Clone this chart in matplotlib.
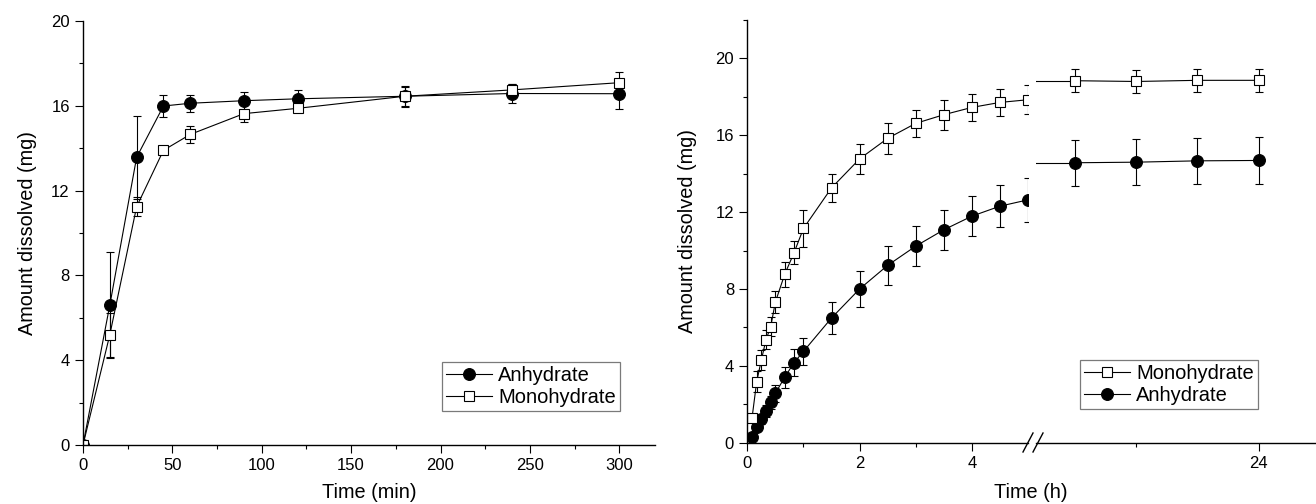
import matplotlib
matplotlib.use('Agg')
from matplotlib import pyplot as plt
from matplotlib.ticker import MultipleLocator, FixedLocator
from matplotlib.lines import Line2D

plt.rcParams['font.family'] = ['Liberation Sans', 'DejaVu Sans']

# left panel: time in minutes
t_min = [0, 15, 30, 45, 60, 90, 120, 180, 240, 300]
anh_min = [0, 6.6, 13.57, 15.99, 16.12, 16.24, 16.33, 16.45, 16.58, 16.57]
anh_min_err = [0, 2.5, 1.95, 0.5, 0.4, 0.42, 0.4, 0.45, 0.45, 0.7]
mono_min = [0, 5.2, 11.24, 13.9, 14.65, 15.63, 15.88, 16.45, 16.75, 17.09]
mono_min_err = [0, 1.05, 0.45, 0.12, 0.42, 0.4, 0.15, 0.5, 0.3, 0.5]

# right panel: time in hours, first 5 h
t_h = [0.083, 0.167, 0.25, 0.333, 0.417, 0.5, 0.667, 0.833, 1.0,
       1.5, 2.0, 2.5, 3.0, 3.5, 4.0, 4.5, 5.0]
mono_h = [1.26, 3.17, 4.3, 5.36, 6.04, 7.32, 8.77, 9.89, 11.15,
          13.26, 14.77, 15.84, 16.62, 17.07, 17.45, 17.71, 17.85]
mono_h_err = [0.15, 0.55, 0.5, 0.5, 0.5, 0.55, 0.65, 0.6, 0.95,
              0.72, 0.78, 0.8, 0.7, 0.78, 0.72, 0.7, 0.75]
anh_h = [0.3, 0.8, 1.24, 1.66, 2.1, 2.57, 3.41, 4.17, 4.75,
         6.49, 8.0, 9.23, 10.23, 11.08, 11.79, 12.31, 12.64]
anh_h_err = [0.1, 0.2, 0.25, 0.3, 0.35, 0.45, 0.55, 0.7, 0.7,
             0.85, 0.96, 1.0, 1.03, 1.03, 1.04, 1.1, 1.15]

# right panel after the axis break
t_long = [6, 12, 18, 24]
mono_long = [18.84, 18.8, 18.86, 18.86]
mono_long_err = [0.6, 0.6, 0.6, 0.6]
anh_long = [14.57, 14.6, 14.67, 14.69]
anh_long_err = [1.2, 1.2, 1.2, 1.2]

W, H = 1316, 504

circ = dict(marker='o', ms=8.5, mfc='black', mec='black', mew=0.8)
sq = dict(marker='s', ms=6.8, mfc='white', mec='black', mew=0.8)
eb = dict(color='black', lw=0.8, elinewidth=0.8, capsize=3.1, capthick=0.8)


def px(x0, y0, x1, y1):
    # pixel box -> figure fraction
    return [x0 / W, 1 - y1 / H, (x1 - x0) / W, (y1 - y0) / H]


def style(ax):
    for s in ['top', 'right']:
        ax.spines[s].set_visible(False)
    for s in ['left', 'bottom']:
        ax.spines[s].set_linewidth(1.0)
    ax.tick_params(which='major', direction='out', length=6, width=0.8, labelsize=12)
    ax.tick_params(which='minor', direction='out', length=3, width=0.8)


def legend(ax, handles, anchor):
    lg = ax.legend(handles=handles, loc='lower right', bbox_to_anchor=anchor,
                   borderaxespad=0, fontsize=14.5, frameon=True, fancybox=False,
                   edgecolor='0.35', handlelength=2.3, handletextpad=0.3,
                   borderpad=0.2, labelspacing=0.15)
    lg.get_frame().set_linewidth(0.9)


fig = plt.figure(figsize=(W / 100, H / 100), dpi=100)

# ---- left panel
ax1 = fig.add_axes(px(83, 21, 655, 445))
ax1.errorbar(t_min, anh_min, yerr=anh_min_err, **eb, **circ)
ax1.errorbar(t_min, mono_min, yerr=mono_min_err, **eb, **sq)
ax1.set_xlim(0, 320)
ax1.set_ylim(0, 20)
ax1.xaxis.set_major_locator(MultipleLocator(50))
ax1.xaxis.set_minor_locator(MultipleLocator(25))
ax1.yaxis.set_major_locator(MultipleLocator(4))
ax1.yaxis.set_minor_locator(MultipleLocator(2))
style(ax1)
ax1.set_xlabel('Time (min)', fontsize=14.3, labelpad=7)
ax1.set_ylabel('Amount dissolved (mg)', fontsize=14.3, labelpad=10)
legend(ax1, [Line2D([], [], color='black', lw=0.8, label='Anhydrate', **circ),
             Line2D([], [], color='black', lw=0.8, label='Monohydrate', **sq)],
       (0.939, 0.080))

# ---- right panel, first part
ax2 = fig.add_axes(px(747.3, 20, 1028, 442.7))
ax2.errorbar(t_h, anh_h, yerr=anh_h_err, **eb, **circ)
ax2.errorbar(t_h, mono_h, yerr=mono_h_err, **eb, **sq)
ax2.set_xlim(0, 5)
ax2.set_ylim(0, 22)
ax2.xaxis.set_major_locator(FixedLocator([0, 2, 4]))
ax2.xaxis.set_minor_locator(FixedLocator([1, 3]))
ax2.yaxis.set_major_locator(FixedLocator([0, 4, 8, 12, 16, 20]))
ax2.yaxis.set_minor_locator(FixedLocator([2, 6, 10, 14, 18, 22]))
style(ax2)
ax2.set_ylabel('Amount dissolved (mg)', fontsize=14.3, labelpad=13)

# ---- right panel, after the break
ax3 = fig.add_axes(px(1036, 20, 1316, 442.7), sharey=ax2)
lo = 2.2
ax3.set_xlim(lo, 29.6)
ax3.plot([lo, t_long[0]], [mono_long[0], mono_long[0]], color='black', lw=0.8)
ax3.plot([lo, t_long[0]], [anh_long[0], anh_long[0]], color='black', lw=0.8)
ax3.errorbar(t_long, anh_long, yerr=anh_long_err, **eb, **circ)
ax3.errorbar(t_long, mono_long, yerr=mono_long_err, **eb, **sq)
ax3.xaxis.set_major_locator(FixedLocator([24]))
ax3.xaxis.set_minor_locator(FixedLocator([12]))
style(ax3)
ax3.spines['left'].set_visible(False)
ax3.tick_params(axis='y', which='both', left=False, labelleft=False)
legend(ax3, [Line2D([], [], color='black', lw=0.8, label='Monohydrate', **sq),
             Line2D([], [], color='black', lw=0.8, label='Anhydrate', **circ)],
       (0.793, 0.080))

fig.text(1031 / W, 1 - 493 / H, 'Time (h)', fontsize=14.3, ha='center', va='center')

# break marks on the x axis
for x0 in (1023, 1033):
    fig.add_artist(Line2D([x0 / W, (x0 + 10) / W], [1 - 452 / H, 1 - 433 / H],
                          color='black', lw=1.0))

fig.savefig('out.png', dpi=100)
